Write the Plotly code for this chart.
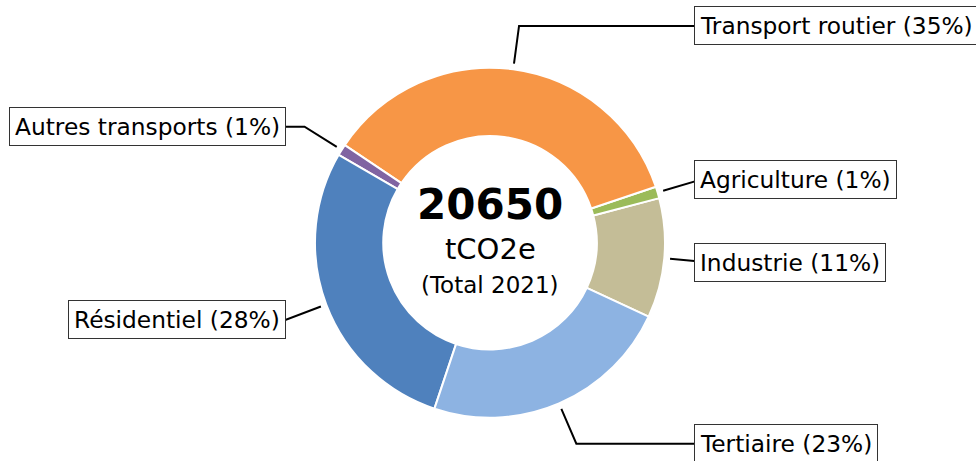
import numpy as np
import plotly.graph_objects as go

# ---- data ----
labels = ["Industrie", "Agriculture", "Transport routier", "Autres transports", "Résidentiel", "Tertiaire"]
values = [2280, 224, 7310, 216, 5830, 4790]
colors = ["#C4BD97", "#9BBB59", "#F79646", "#8064A2", "#4F81BD", "#8DB3E2"]
total_value = "20650"
unit_text = "tCO2e"
sub_text = "(Total 2021)"

# ---- geometry / style ----
W, H = 976, 461
CX, CY = 490.0, 242.7   # pie centre in px (from top-left)
R = 175.0               # outer radius px
START = -25.0           # math angle (deg) where first slice begins, ccw
FONT = "DejaVu Sans"

vals = np.array(values, dtype=float)
tot = vals.sum()
pcts = [int(round(v / tot * 100)) for v in vals]

fig = go.Figure()

# plotly (counterclockwise): rotation marks the ccw edge of the first slice
rot = 90 - (START + 360 * vals[0] / tot)

cy_b = H - CY
fig.add_trace(go.Pie(
    labels=labels, values=values, sort=False, direction="counterclockwise",
    rotation=rot, hole=0.61,
    marker=dict(colors=colors, line=dict(color="white", width=2)),
    textinfo="none", hoverinfo="label+value+percent", showlegend=False,
    domain=dict(x=[(CX - R) / W, (CX + R) / W], y=[(cy_b - R) / H, (cy_b + R) / H]),
))

# leader lines + labels in data units where radius = 1
cum = np.concatenate([[0], np.cumsum(vals)]) / tot
annotations = []
for i, lab in enumerate(labels):
    mid = np.deg2rad(START + 360 * (cum[i] + cum[i + 1]) / 2)
    c, s = np.cos(mid), np.sin(mid)
    sgn = 1 if c >= 0 else -1
    p0 = (1.033 * c, 1.033 * s)
    corner = (1.25 * c, 1.25 * s)
    lab_pt = (1.2 * sgn, 1.25 * s)
    fig.add_trace(go.Scatter(
        x=[p0[0], corner[0], lab_pt[0]], y=[p0[1], corner[1], lab_pt[1]],
        mode="lines", line=dict(color="black", width=2), hoverinfo="skip", showlegend=False,
    ))
    annotations.append(dict(
        x=lab_pt[0], y=lab_pt[1], xref="x", yref="y",
        text=f"{lab} ({pcts[i]}%)", showarrow=False,
        xanchor="left" if sgn > 0 else "right", yanchor="middle",
        xshift=-6 * sgn,
        font=dict(family=FONT, size=23.3, color="black"),
        bgcolor="white", bordercolor="#333333", borderwidth=1, borderpad=5,
    ))

annotations += [
    dict(x=0, y=0.216, xref="x", yref="y", text=f"<b>{total_value}</b>", showarrow=False,
         xanchor="center", yanchor="middle", font=dict(family=FONT, size=42, color="black")),
    dict(x=0, y=-0.038, xref="x", yref="y", text=unit_text, showarrow=False,
         xanchor="center", yanchor="middle", font=dict(family=FONT, size=29, color="black")),
    dict(x=0, y=-0.243, xref="x", yref="y", text=sub_text, showarrow=False,
         xanchor="center", yanchor="middle", font=dict(family=FONT, size=23, color="black")),
]

fig.update_layout(
    width=W, height=H, margin=dict(l=0, r=0, t=0, b=0),
    paper_bgcolor="white", plot_bgcolor="white",
    xaxis=dict(range=[-CX / R, (W - CX) / R], visible=False, fixedrange=True),
    yaxis=dict(range=[-cy_b / R, CY / R], visible=False, fixedrange=True),
    annotations=annotations, showlegend=False,
)

fig.write_html("out.html", config={"displayModeBar": False},
               post_script="document.body.style.margin='0px';")
